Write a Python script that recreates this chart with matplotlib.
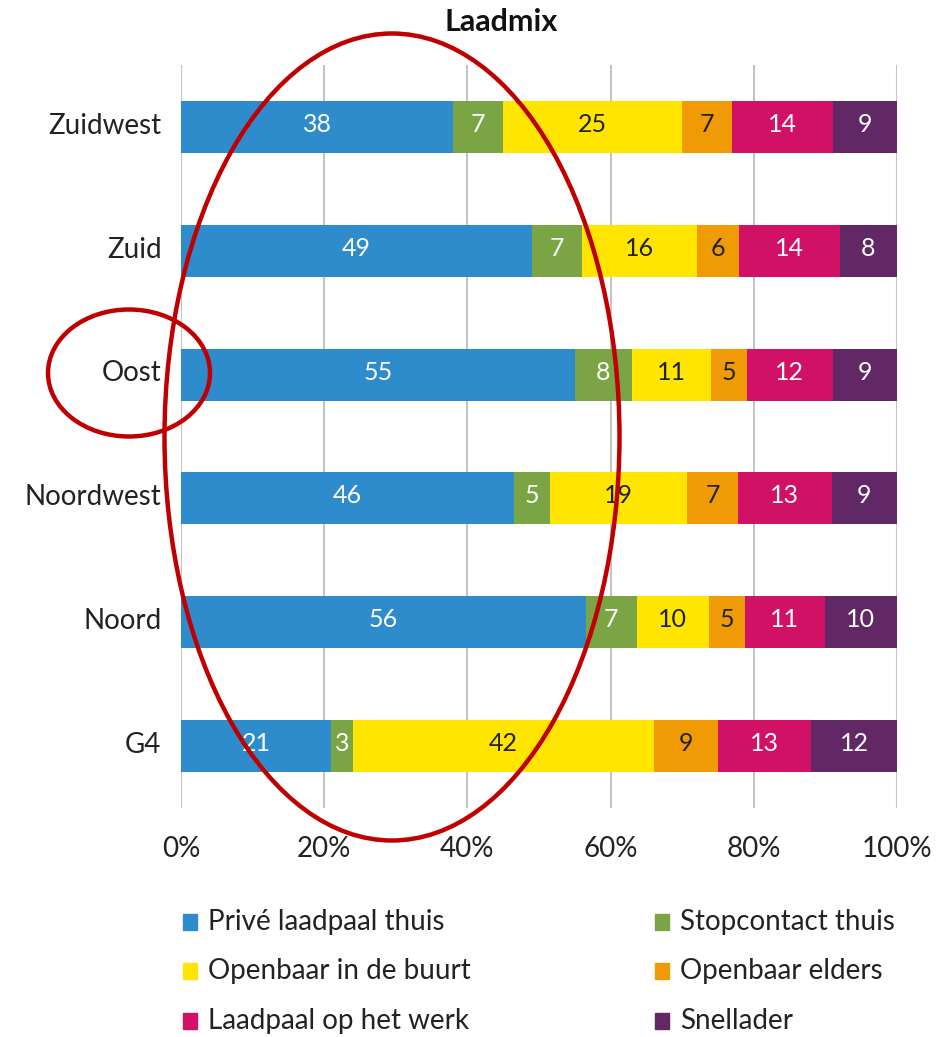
import matplotlib
import matplotlib.pyplot as plt
import numpy as np
from matplotlib.patches import Ellipse, Rectangle

matplotlib.use("Agg")

plt.rcParams["font.family"] = ["Lato", "DejaVu Sans"]

# ── Data ──────────────────────────────────────────────────────────────────────
regions = ["Zuidwest", "Zuid", "Oost", "Noordwest", "Noord", "G4"]
series = [
    "Privé laadpaal thuis",
    "Stopcontact thuis",
    "Openbaar in de buurt",
    "Openbaar elders",
    "Laadpaal op het werk",
    "Snellader",
]
prive = [38, 49, 55, 46, 56, 21]
stopcontact = [7, 7, 8, 5, 7, 3]
buurt = [25, 16, 11, 19, 10, 42]
elders = [7, 6, 5, 7, 5, 9]
werk = [14, 14, 12, 13, 11, 13]
snel = [9, 8, 9, 9, 10, 12]
xticks = [0, 20, 40, 60, 80, 100]

colors = ["#2F8CCC", "#7BA445", "#FFE500", "#F09A05", "#D01165", "#612865"]
text_colors = ["white", "white", "#222222", "#222222", "white", "white"]

values = np.array([prive, stopcontact, buurt, elders, werk, snel], dtype=float)
shares = values / values.sum(axis=0) * 100

# ── Figure ────────────────────────────────────────────────────────────────────
fig = plt.figure(figsize=(9.43, 10.37), dpi=100)
ax = fig.add_axes([181 / 943, 1 - 808 / 1037, 716 / 943, 743 / 1037])

ypos = np.arange(len(regions))[::-1]
left = np.zeros(len(regions))
for i, name in enumerate(series):
    ax.barh(ypos, shares[i], left=left, height=0.42, color=colors[i],
            label=name, zorder=3)
    for y, l, w, v in zip(ypos, left, shares[i], values[i]):
        ax.text(l + w / 2, y + 0.02, f"{v:.0f}", ha="center", va="center",
                fontsize=18, color=text_colors[i], zorder=4)
    left += shares[i]

ax.set_xlim(0, 100)
ax.set_ylim(-0.5, 5.5)
ax.set_xticks(xticks)
ax.set_xticklabels([f"{t}%" for t in xticks], fontsize=20, color="#222222")
ax.set_yticks(ypos + 0.03)
ax.set_yticklabels(regions, fontsize=20, color="#222222")
ax.tick_params(axis="x", length=0, pad=20)
ax.tick_params(axis="y", length=0, pad=14)
ax.grid(axis="x", color="#c4c4c4", linewidth=1.5, zorder=0)
for s in ax.spines.values():
    s.set_visible(False)

fig.text(501 / 943, 1 - 22 / 1037, "Laadmix", ha="center", va="center",
         fontsize=22, fontweight="bold", color="#111111")

# ── Legend (two columns, square markers) ─────────────────────────────────────
leg_x = [183, 655]
leg_y = [922, 971, 1021]
for i, name in enumerate(series):
    col, row = i % 2, i // 2
    x, y = leg_x[col], leg_y[row]
    fig.add_artist(Rectangle((x / 943, 1 - (y + 8) / 1037), 14 / 943, 16 / 1037,
                             transform=fig.transFigure, color=colors[i]))
    fig.text((x + 25) / 943, 1 - y / 1037, name, ha="left", va="center",
             fontsize=20, color="#222222")

# ── Red annotation circles ───────────────────────────────────────────────────
fig.add_artist(Ellipse((392 / 943, 1 - 437 / 1037), 455 / 943, 807 / 1037,
                       transform=fig.transFigure, fill=False,
                       edgecolor="#C00000", linewidth=3.2, zorder=10))
fig.add_artist(Ellipse((129 / 943, 1 - 373 / 1037), 162 / 943, 127 / 1037,
                       transform=fig.transFigure, fill=False,
                       edgecolor="#C00000", linewidth=3.2, zorder=10))

fig.savefig("out.png", dpi=100)
